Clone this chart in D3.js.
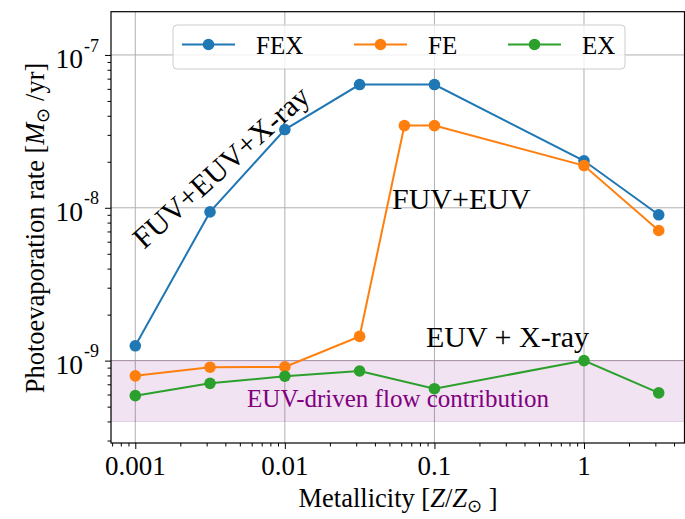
<!DOCTYPE html>
<html><head><meta charset="utf-8">
<script src="https://cdn.jsdelivr.net/npm/d3@7"></script>
<style>body{margin:0;background:#fff}svg{display:block}text{font-family:"Liberation Serif","Times New Roman",serif}</style>
</head><body><svg id="c" width="685" height="519"></svg>
<script>
const metallicity = [0.001, 0.00316, 0.01, 0.0316, 0.1, 1, 3.16];
const metallicityFE = [0.001, 0.00316, 0.01, 0.0316, 0.063, 0.1, 1, 3.16];
const rateFEX = [1.25e-9, 9.4e-9, 3.25e-8, 6.4e-8, 6.4e-8, 2.03e-8, 9.0e-9];
const rateFE  = [7.95e-10, 9.05e-10, 9.1e-10, 1.44e-9, 3.45e-8, 3.45e-8, 1.89e-8, 7.1e-9];
const rateEX  = [5.9e-10, 7.1e-10, 7.9e-10, 8.55e-10, 6.55e-10, 1.0e-9, 6.15e-10];
const seriesNames = ["FEX", "FE", "EX"];
const xTickValues = [0.001, 0.01, 0.1, 1];
const xTickLabels = ["0.001", "0.01", "0.1", "1"];
const yTickValues = [1e-9, 1e-8, 1e-7];
const yTickExps = ["-9", "-8", "-7"];
const band = [4e-10, 1e-9];

const colors = ["#1f77b4", "#ff7f0e", "#2ca02c"];
const svg = d3.select("#c");
const L = 111, R = 684.5, T = 11.7, B = 443;
const xs = d3.scaleLog().domain([Math.pow(10, -3.1624), Math.pow(10, 0.672)]).range([L, R]);
const ys = d3.scaleLog().domain([Math.pow(10, -9.539), Math.pow(10, -6.717)]).range([B, T]);

// minor ticks
const xMinor = [], yMinor = [];
for (let e = -4; e <= 1; e++) for (let m = 2; m <= 9; m++) { const v = m * Math.pow(10, e); if (v > xs.domain()[0] && v < xs.domain()[1]) xMinor.push(v); }
for (let e = -10; e <= -7; e++) for (let m = 2; m <= 9; m++) { const v = m * Math.pow(10, e); if (v > ys.domain()[0] && v < ys.domain()[1]) yMinor.push(v); }

// grid
const g = svg.append("g");
g.selectAll(".gx").data(xTickValues).enter().append("line")
  .attr("x1", d => xs(d)).attr("x2", d => xs(d)).attr("y1", T).attr("y2", B)
  .attr("stroke", "#b0b0b0").attr("stroke-width", 1);
g.selectAll(".gy").data(yTickValues).enter().append("line")
  .attr("y1", d => ys(d)).attr("y2", d => ys(d)).attr("x1", L).attr("x2", R)
  .attr("stroke", "#b0b0b0").attr("stroke-width", 1);

// band
svg.append("rect").attr("x", L).attr("width", R - L)
  .attr("y", ys(band[1])).attr("height", ys(band[0]) - ys(band[1]))
  .attr("fill", "rgba(128,0,128,0.11)").attr("stroke", "rgba(128,0,128,0.15)").attr("stroke-width", 1);

// axes ticks
const ax = svg.append("g").attr("transform", `translate(0,${B})`);
ax.call(d3.axisBottom(xs).tickValues(xTickValues).tickSize(6).tickFormat(""));
ax.append("g").call(d3.axisBottom(xs).tickValues(xMinor).tickSize(3.5).tickFormat(""));
const ay = svg.append("g").attr("transform", `translate(${L},0)`);
ay.call(d3.axisLeft(ys).tickValues(yTickValues).tickSize(6).tickFormat(""));
ay.append("g").call(d3.axisLeft(ys).tickValues(yMinor).tickSize(3.5).tickFormat(""));
svg.selectAll(".domain").remove();
svg.selectAll(".tick line").attr("stroke", "#000").attr("stroke-width", 1);

// tick labels
svg.selectAll(".xl").data(xTickValues).enter().append("text")
  .attr("x", d => xs(d)).attr("y", 475).attr("text-anchor", "middle")
  .attr("font-size", 27).text((d, i) => xTickLabels[i]);
yTickValues.forEach((v, i) => {
  const t = svg.append("text").attr("x", 99).attr("y", ys(v) + 13.5).attr("text-anchor", "end").attr("font-size", 27.5);
  t.append("tspan").text("10");
  t.append("tspan").attr("font-size", 18).attr("dy", -16.8).attr("dx", 1).text(yTickExps[i]);
});

// lines
const line = d3.line().x(d => xs(d[0])).y(d => ys(d[1]));
const series = [
  {name: seriesNames[0], x: metallicity, y: rateFEX, c: colors[0]},
  {name: seriesNames[1], x: metallicityFE, y: rateFE, c: colors[1]},
  {name: seriesNames[2], x: metallicity, y: rateEX, c: colors[2]}
];
series.forEach(s => {
  const pts = s.x.map((x, i) => [x, s.y[i]]);
  svg.append("path").attr("d", line(pts)).attr("fill", "none").attr("stroke", s.c).attr("stroke-width", 2);
  svg.selectAll(null).data(pts).enter().append("circle")
    .attr("cx", d => xs(d[0])).attr("cy", d => ys(d[1])).attr("r", 5.8).attr("fill", s.c);
});

// spines
svg.append("rect").attr("x", L).attr("y", T).attr("width", R - L).attr("height", B - T)
  .attr("fill", "none").attr("stroke", "#000").attr("stroke-width", 1.2);

// annotations
svg.append("text").attr("transform", "translate(144,250) rotate(-42)").attr("font-size", 30).text("FUV+EUV+X-ray");
svg.append("text").attr("x", 392).attr("y", 209).attr("font-size", 30).text("FUV+EUV");
svg.append("text").attr("x", 426).attr("y", 347).attr("font-size", 30).text("EUV + X-ray");
svg.append("text").attr("x", 398).attr("y", 407).attr("text-anchor", "middle").attr("font-size", 25)
  .attr("fill", "purple").text("EUV-driven flow contribution");

// legend
const lg = svg.append("g");
lg.append("rect").attr("x", 173).attr("y", 25).attr("width", 452).attr("height", 44).attr("rx", 4)
  .attr("fill", "rgba(255,255,255,0.8)").attr("stroke", "#cccccc").attr("stroke-width", 1);
const lx = [182, 354, 508];
series.forEach((s, i) => {
  lg.append("line").attr("x1", lx[i]).attr("x2", lx[i] + 53).attr("y1", 44.5).attr("y2", 44.5).attr("stroke", s.c).attr("stroke-width", 2);
  lg.append("circle").attr("cx", lx[i] + 26.5).attr("cy", 44.5).attr("r", 5.8).attr("fill", s.c);
  lg.append("text").attr("x", lx[i] + 74).attr("y", 53.5).attr("font-size", 25).text(s.name);
});

// axis labels
const xl = svg.append("text").attr("x", 398).attr("y", 507).attr("text-anchor", "middle").attr("font-size", 26.5);
xl.append("tspan").text("Metallicity [");
xl.append("tspan").attr("font-style", "italic").text("Z");
xl.append("tspan").text("/");
xl.append("tspan").attr("font-style", "italic").text("Z");
xl.append("tspan").attr("font-size", 18).attr("dy", 5).text("⊙");
xl.append("tspan").attr("dy", -5).text(" ]");
const yl = svg.append("text").attr("transform", "translate(44,228) rotate(-90)").attr("text-anchor", "middle").attr("font-size", 26.5);
yl.append("tspan").text("Photoevaporation rate [");
yl.append("tspan").attr("font-style", "italic").text("M");
yl.append("tspan").attr("font-size", 18).attr("dy", 5).text("⊙");
yl.append("tspan").attr("dy", -5).text(" /yr]");
</script></body></html>
